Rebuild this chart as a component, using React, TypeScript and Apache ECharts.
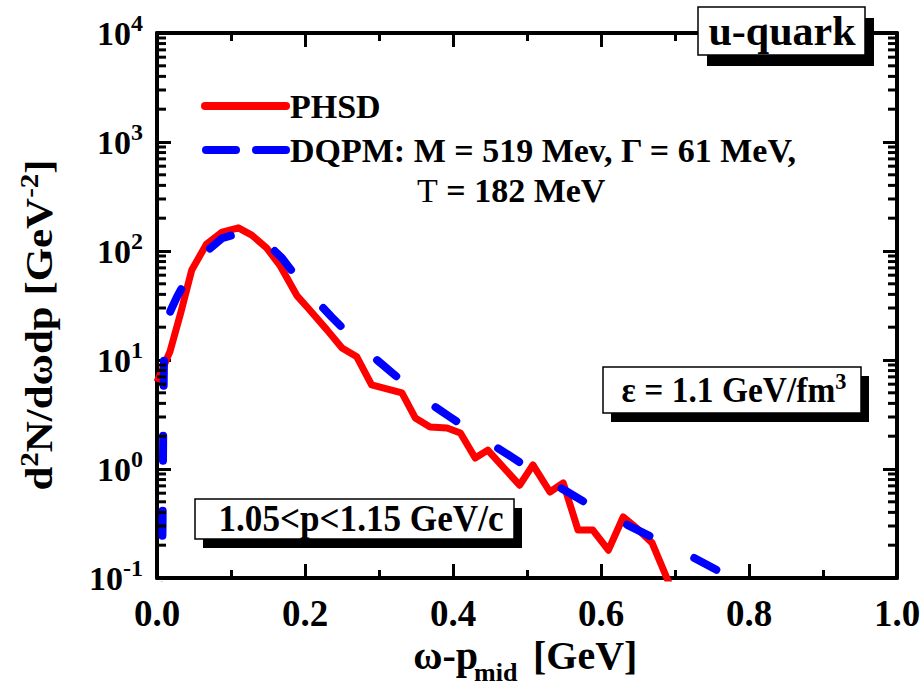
import React, { useEffect, useRef } from "react";
import * as echarts from "echarts";

// Axis ticks
const xMajorTicks = [0, 0.2, 0.4, 0.6, 0.8, 1.0];
const yDecades = [0.1, 1, 10, 100, 1000, 10000];

// PHSD spectrum (red, solid)
const phsdX = [0, 0.0176, 0.032, 0.047, 0.067, 0.088, 0.11, 0.128, 0.148, 0.166, 0.189, 0.204, 0.23, 0.25, 0.27, 0.29, 0.331, 0.349, 0.369, 0.392, 0.41, 0.43, 0.447, 0.49, 0.508, 0.531, 0.549, 0.569, 0.589, 0.61, 0.63, 0.648, 0.669, 0.689, 0.695];
const phsdY = [6.3, 12, 27, 67, 116, 149, 163, 140, 107, 74, 39, 30, 18.8, 12.9, 10.7, 5.9, 5.0, 2.94, 2.43, 2.38, 2.14, 1.26, 1.49, 0.71, 1.09, 0.615, 0.745, 0.275, 0.275, 0.18, 0.363, 0.288, 0.21, 0.1, 0.08];

// DQPM spectral function (blue, dashed)
const dqpmX = [0.006, 0.0075, 0.0085, 0.0095, 0.011, 0.018, 0.027, 0.04, 0.055, 0.07, 0.088, 0.11, 0.132, 0.15, 0.169, 0.185, 0.204, 0.236, 0.26, 0.281, 0.318, 0.362, 0.396, 0.443, 0.477, 0.52, 0.555, 0.601, 0.636, 0.682, 0.718, 0.761, 0.788, 0.82];
const dqpmY = [0.05, 0.3, 3, 11, 20, 28, 38, 55, 78, 103, 131, 145, 140, 115, 86, 62, 42, 24.8, 17, 12.4, 7.6, 4.3, 3.0, 1.85, 1.32, 0.845, 0.615, 0.4, 0.306, 0.214, 0.163, 0.114, 0.1, 0.075];

const SERIF = "'Liberation Serif', 'Times New Roman', Times, serif";

// Log-scale minor ticks (2..9 within each decade)
const minorLogTicks: number[] = [];
for (let i = 0; i < yDecades.length - 1; i++) {
  for (let k = 2; k <= 9; k++) minorLogTicks.push(k * yDecades[i]);
}

const tickStyle = { color: "#000", width: 3 };

function xAxisDef(position: "top" | "bottom", showLabel: boolean) {
  return {
    type: "value",
    position,
    min: 0,
    max: 1,
    interval: 0.2,
    axisLine: { show: true, onZero: false, lineStyle: { color: "#000", width: 4 } },
    axisTick: { show: true, inside: true, length: 14, lineStyle: tickStyle },
    minorTick: { show: true, splitNumber: 2, length: 8, lineStyle: tickStyle },
    splitLine: { show: false },
    minorSplitLine: { show: false },
    axisLabel: {
      show: showLabel,
      formatter: (v: number) => v.toFixed(1),
      fontSize: 37,
      fontWeight: "bold",
      fontFamily: SERIF,
      color: "#000",
      margin: 17,
    },
  };
}

function yAxisDef(position: "left" | "right", showLabel: boolean) {
  return {
    type: "log",
    logBase: 10,
    position,
    min: yDecades[0],
    max: yDecades[yDecades.length - 1],
    axisLine: { show: true, onZero: false, lineStyle: { color: "#000", width: 4 } },
    axisTick: { show: true, inside: true, length: 14, lineStyle: tickStyle },
    minorTick: { show: false },
    splitLine: { show: false },
    axisLabel: {
      show: showLabel,
      showMinLabel: true,
      showMaxLabel: true,
      margin: 14,
      formatter: (v: number) => `{b|10}{s|${Math.round(Math.log10(v))}}`,
      rich: {
        b: { fontSize: 34, fontWeight: "bold", fontFamily: SERIF, color: "#000", lineHeight: 44 },
        s: { fontSize: 24, fontWeight: "bold", fontFamily: SERIF, color: "#000", lineHeight: 24, verticalAlign: "top" },
      },
    },
  };
}

function labelBox(x: number, y: number, w: number, h: number, dx: number, dy: number, text: string, fontSize: number, tx: number, sx: number, rich?: any) {
  return [
    { type: "rect", z: 100, shape: { x: x + dx, y: y + dy, width: w, height: h }, style: { fill: "#000" } },
    { type: "rect", z: 101, shape: { x, y, width: w, height: h }, style: { fill: "#fff", stroke: "#000", lineWidth: 1.5 } },
    {
      type: "text",
      z: 102,
      x: tx,
      y: y + h / 2,
      scaleX: sx,
      style: {
        text,
        fill: "#000",
        font: `bold ${fontSize}px ${SERIF}`,
        align: "center",
        verticalAlign: "middle",
        rich,
      },
    },
  ];
}

export default function App() {
  const ref = useRef<HTMLDivElement>(null);

  useEffect(() => {
    if (!ref.current) return;
    const chart = echarts.init(ref.current, undefined, { renderer: "svg" });

    const titleFont = `bold 40px ${SERIF}`;
    const legendText = (x: number, y: number, text: string, rich?: any) => ({
      type: "text",
      x,
      y,
      z: 100,
      style: { text, fill: "#000", font: `bold 34px ${SERIF}`, align: "left", verticalAlign: "middle", rich },
    });

    chart.setOption({
      animation: false,
      backgroundColor: "#fff",
      grid: { left: 157, right: 27, top: 33, bottom: 108, outerBoundsMode: "none" },
      xAxis: [xAxisDef("bottom", true), xAxisDef("top", false)],
      yAxis: [yAxisDef("left", true), yAxisDef("right", false)],
      series: [
        {
          name: "DQPM",
          type: "line",
          xAxisIndex: 0,
          yAxisIndex: 0,
          data: dqpmX.map((x, i) => [x, dqpmY[i]]),
          showSymbol: false,
          clip: true,
          z: 3,
          lineStyle: { color: "#0000ff", width: 8, type: [25, 50], cap: "round", join: "round", dashOffset: 0 },
        },
        {
          name: "PHSD",
          type: "line",
          xAxisIndex: 0,
          yAxisIndex: 0,
          data: phsdX.map((x, i) => [x, phsdY[i]]),
          showSymbol: false,
          clip: true,
          z: 2,
          lineStyle: { color: "#ff0000", width: 7, join: "round" },
        },
        {
          type: "custom",
          xAxisIndex: 0,
          yAxisIndex: 0,
          silent: true,
          clip: false,
          z: 5,
          data: minorLogTicks.map((v) => [0, v]),
          encode: { x: 0, y: 1 },
          renderItem: (_params: any, api: any) => {
            const v = api.value(1);
            const l = api.coord([xMajorTicks[0], v]);
            const r = api.coord([xMajorTicks[xMajorTicks.length - 1], v]);
            return {
              type: "group",
              children: [
                { type: "line", shape: { x1: l[0], y1: l[1], x2: l[0] + 9, y2: l[1] }, style: { stroke: "#000", lineWidth: 3 } },
                { type: "line", shape: { x1: r[0] - 9, y1: r[1], x2: r[0], y2: r[1] }, style: { stroke: "#000", lineWidth: 3 } },
              ],
            };
          },
        },
      ],
      graphic: [
        // y-axis title
        {
          type: "text",
          x: 40,
          y: 325,
          rotation: Math.PI / 2,
          scaleX: 1.16,
          style: {
            text: "{t|d}{s|2}{t|N/dωdp [GeV}{s|-2}{t|]}",
            align: "center",
            verticalAlign: "middle",
            rich: {
              t: { fontSize: 37, fontWeight: "bold", fontFamily: SERIF, color: "#000", lineHeight: 46 },
              s: { fontSize: 25, fontWeight: "bold", fontFamily: SERIF, color: "#000", lineHeight: 24, verticalAlign: "top" },
            },
          },
        },
        // x-axis title: ω-p, subscript "mid", [GeV]
        { type: "text", x: 478, y: 655, style: { text: "ω-p", fill: "#000", font: titleFont, align: "right", verticalAlign: "middle" } },
        { type: "text", x: 474, y: 672, style: { text: "mid", fill: "#000", font: `bold 26px ${SERIF}`, align: "left", verticalAlign: "middle" } },
        { type: "text", x: 533, y: 655, style: { text: "[GeV]", fill: "#000", font: titleFont, align: "left", verticalAlign: "middle" } },
        // legend
        { type: "line", z: 100, shape: { x1: 205, y1: 106, x2: 286, y2: 106 }, style: { stroke: "#ff0000", lineWidth: 8, lineCap: "round" } },
        legendText(290, 106, "PHSD"),
        { type: "line", z: 100, shape: { x1: 206, y1: 150, x2: 236, y2: 150 }, style: { stroke: "#0000ff", lineWidth: 8, lineCap: "round" } },
        { type: "line", z: 100, shape: { x1: 256, y1: 150, x2: 286, y2: 150 }, style: { stroke: "#0000ff", lineWidth: 8, lineCap: "round" } },
        legendText(290, 150, "DQPM: M = 519 Mev, Γ = 61 MeV,"),
        legendText(417, 190, "{n|T}{t| = 182 MeV}", {
          n: { fontSize: 34, fontWeight: "normal", fontFamily: SERIF, color: "#000" },
          t: { fontSize: 34, fontWeight: "bold", fontFamily: SERIF, color: "#000" },
        }),
        // annotation boxes
        ...labelBox(698, 7, 167, 48, 9, 11, "u-quark", 42, 782, 1),
        ...labelBox(603, 367, 258, 46, 8, 9, "{t|ε = 1.1 GeV/fm}{s|3}", 36, 734, 0.93, {
          t: { fontSize: 36, fontWeight: "bold", fontFamily: SERIF, color: "#000", lineHeight: 42 },
          s: { fontSize: 24, fontWeight: "bold", fontFamily: SERIF, color: "#000", lineHeight: 22, verticalAlign: "top" },
        }),
        ...labelBox(195, 499, 319, 40, 8, 9, "1.05<p<1.15 GeV/c", 37, 361, 0.95),
      ],
    });

    return () => chart.dispose();
  }, []);

  return <div ref={ref} style={{ position: "fixed", left: 0, top: 0, width: 924, height: 686 }} />;
}
